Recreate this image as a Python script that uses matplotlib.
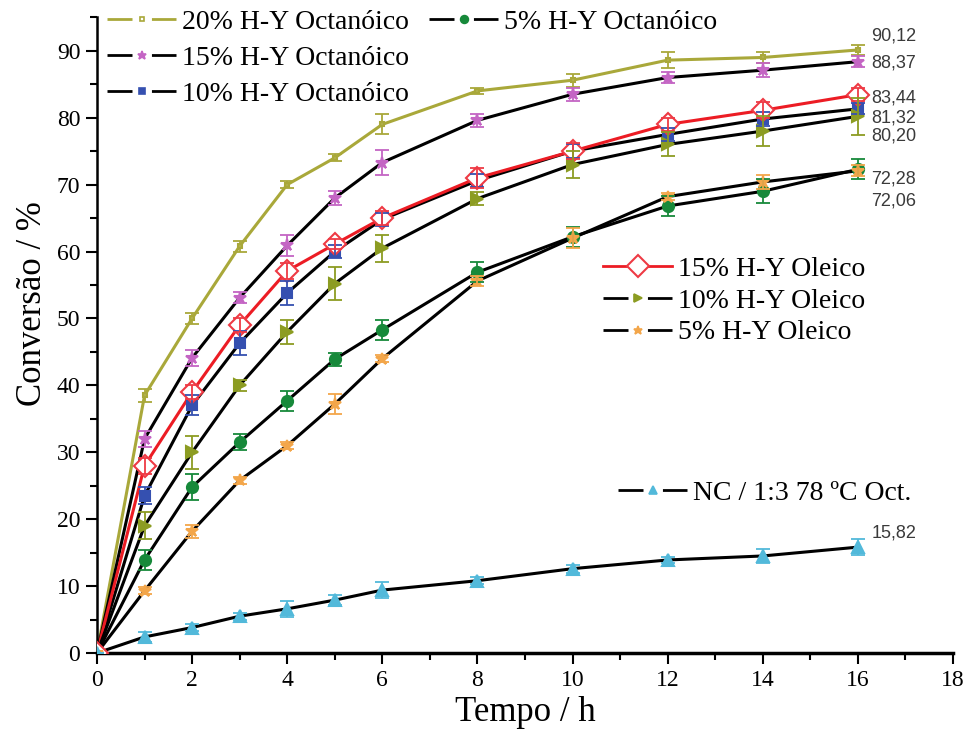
import matplotlib
matplotlib.use('Agg')
import matplotlib.pyplot as plt
from matplotlib.lines import Line2D
from matplotlib.ticker import MultipleLocator

# tempo de reação (h) e conversão (%) de cada ensaio
tempo = [0, 1, 2, 3, 4, 5, 6, 8, 10, 12, 14, 16]

oct20 = [0, 38.5, 50.0, 60.8, 70.0, 74.0, 79.0, 84.0, 85.6, 88.6, 89.0, 90.12]
oct20_err = [0, 1.0, 0.8, 0.8, 0.5, 0.5, 1.5, 0.5, 1.0, 1.2, 0.8, 0.8]
oct15 = [0, 32.0, 44.1, 53.1, 60.9, 68.0, 73.3, 79.6, 83.5, 86.0, 87.1, 88.37]
oct15_err = [0, 1.2, 1.2, 0.8, 1.5, 1.0, 1.8, 1.0, 1.0, 0.8, 1.0, 0.8]
oct10 = [0, 23.5, 37.0, 46.3, 53.8, 60.0, 64.8, 70.6, 75.0, 77.5, 79.8, 81.32]
oct10_err = [0, 1.3, 1.5, 1.8, 1.8, 1.0, 1.0, 1.0, 1.0, 1.0, 1.0, 0.8]
oct5 = [0, 13.9, 24.8, 31.5, 37.7, 43.9, 48.3, 56.9, 62.2, 66.8, 69.0, 72.28]
oct5_err = [0, 1.5, 2.0, 1.2, 1.5, 1.0, 1.5, 1.5, 1.5, 1.5, 1.8, 1.5]
ole15 = [0, 28.0, 39.0, 49.0, 57.1, 61.1, 65.0, 71.0, 75.0, 79.0, 81.1, 83.44]
ole15_err = [0, 1.2, 1.0, 1.0, 1.2, 0.8, 1.0, 1.5, 1.2, 1.0, 1.2, 1.0]
ole10 = [0, 19.0, 30.0, 40.0, 48.0, 55.2, 60.5, 67.9, 73.0, 76.0, 78.0, 80.20]
ole10_err = [0, 2.0, 2.5, 0.8, 1.8, 2.5, 2.0, 1.0, 2.0, 1.8, 2.2, 2.8]
ole5 = [0, 9.3, 18.2, 25.8, 31.0, 37.2, 44.0, 55.6, 62.0, 68.2, 70.4, 72.06]
ole5_err = [0, 0.5, 1.0, 0.5, 0.5, 1.5, 0.5, 0.8, 1.5, 0.5, 1.0, 0.8]
nc = [0, 2.4, 3.8, 5.5, 6.6, 7.9, 9.4, 10.8, 12.6, 13.9, 14.5, 15.82]
nc_err = [0, 0.8, 0.5, 0.5, 1.2, 0.8, 1.2, 0.5, 0.6, 0.5, 1.0, 1.2]

nomes_oct = ["20% H-Y Octanóico", "15% H-Y Octanóico", "10% H-Y Octanóico", "5% H-Y Octanóico"]
nomes_ole = ["15% H-Y Oleico", "10% H-Y Oleico", "5% H-Y Oleico"]
nome_nc = "NC / 1:3 78 ºC Oct."

plt.rcParams['font.family'] = ['Liberation Serif', 'DejaVu Serif']

fig = plt.figure(figsize=(9.7, 7.4), dpi=100)
ax = fig.add_axes([0.1, 0.1176, 0.8825, 0.859])

# (valores, erros, cor da linha, marcador, cor do marcador, tamanho, face)
series = [
    (oct20, oct20_err, '#a9a83a', 's', '#a9a83a', 3.5, 'white'),
    (oct15, oct15_err, 'black', '*', '#c465c4', 9, '#c465c4'),
    (oct10, oct10_err, 'black', 's', '#3550b0', 6.5, '#3550b0'),
    (oct5, oct5_err, 'black', 'o', '#17893a', 8, '#17893a'),
    (ole15, ole15_err, '#ec1c24', 'D', '#ee3a44', 11, 'white'),
    (ole10, ole10_err, 'black', '>', '#8c9c22', 8, '#8c9c22'),
    (ole5, ole5_err, 'black', '*', '#f3a64a', 9, '#f3a64a'),
    (nc, nc_err, 'black', '^', '#52b9da', 8, '#52b9da'),
]

for valores, erros, cor, marc, cor_m, tam, face in series:
    ax.plot(tempo, valores, color=cor, lw=2.2, zorder=2)
    ax.plot(tempo, valores, ls='none', marker=marc, ms=tam, mec=cor_m, mfc=face,
            mew=1.5, zorder=3)
    ax.errorbar(tempo, valores, yerr=erros, fmt='none', ecolor=cor_m, elinewidth=1.3,
                capsize=5, capthick=1.3, zorder=4)

# valores finais de conversão
finais = [(oct20[-1], 92.25), (oct15[-1], 88.1), (ole15[-1], 83.0), (oct10[-1], 80.0),
          (ole10[-1], 77.3), (oct5[-1], 70.9), (ole5[-1], 67.5), (nc[-1], 17.9)]
for v, y in finais:
    ax.text(16.28, y, f"{v:.2f}".replace('.', ','), fontsize=13, color='#3a3a3a',
            family=['Liberation Sans', 'DejaVu Sans'], ha='left', va='center')

ax.set_xlim(0, 18)
ax.set_ylim(0, 95)
ax.xaxis.set_major_locator(MultipleLocator(2))
ax.xaxis.set_minor_locator(MultipleLocator(1))
ax.yaxis.set_major_locator(MultipleLocator(10))
ax.yaxis.set_minor_locator(MultipleLocator(5))
ax.set_yticks(range(0, 100, 10))
ax.tick_params(which='major', direction='out', length=8, width=1.5, labelsize=17, pad=4)
ax.tick_params(which='minor', direction='out', length=5, width=1.5)
ax.spines['top'].set_visible(False)
ax.spines['right'].set_visible(False)
ax.spines['left'].set_linewidth(1.8)
ax.spines['bottom'].set_linewidth(2.5)
ax.set_xlabel("Tempo / h", fontsize=25, labelpad=4)
ax.set_ylabel("Conversão / %", fontsize=25)
ax.yaxis.set_label_coords(-0.056, 0.55)


def proxy(s, solido=False):
    valores, erros, cor, marc, cor_m, tam, face = s
    if solido:
        return Line2D([], [], color=cor, lw=2, marker=marc, ms=tam, mec=cor_m, mfc=face, mew=1.5)
    return Line2D([], [], color=cor, lw=2, ls=(0, (9, 7)), marker=marc, ms=tam * 0.7,
                  mec=cor_m, mfc=face, mew=1.2)


def legenda(handles, labels, px, py, espaco):
    leg = fig.legend(handles, labels, loc='center left', bbox_to_anchor=(px / 970, 1 - py / 740),
                     bbox_transform=fig.transFigure, frameon=False, fontsize=20,
                     handlelength=2.5, handletextpad=0.2, borderpad=0, borderaxespad=0,
                     labelspacing=espaco)
    return leg


legenda([proxy(series[0]), proxy(series[1]), proxy(series[2])], nomes_oct[:3], 107, 58, 0.38)
legenda([proxy(series[3])], nomes_oct[3:], 429, 22, 0.2)
legenda([proxy(series[4], True), proxy(series[5]), proxy(series[6])], nomes_ole, 603, 301, 0.22)
legenda([proxy(series[7])], [nome_nc], 618, 493, 0.1)

fig.savefig("out.png", dpi=100)
